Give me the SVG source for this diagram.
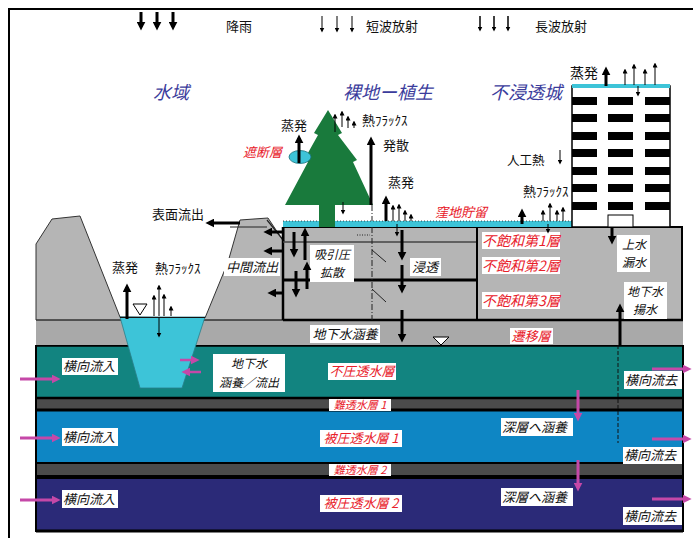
<svg xmlns="http://www.w3.org/2000/svg" width="693" height="538" viewBox="0 0 693 538">
<defs>
<style>
text{font-family:"Noto Sans CJK JP","Noto Sans",sans-serif;font-size:13px;fill:#111}
.it{font-style:italic}
.red{fill:#e8202a}
.reg{font-size:18px;fill:#3b3c9c;font-style:italic}
.mid{text-anchor:middle}
.two{font-size:12px}
.bx{fill:#fff}
.ak{stroke:#000;stroke-width:3;fill:none;marker-end:url(#ak)}
.at{stroke:#000;stroke-width:1;fill:none;marker-end:url(#at)}
.ap{stroke:#c548a8;stroke-width:3;fill:none;marker-end:url(#ap)}
.win{fill:#000}
</style>
<marker id="ak" viewBox="0 0 10 10" refX="6" refY="5" markerWidth="9" markerHeight="9" markerUnits="userSpaceOnUse" orient="auto"><path d="M0,0 L10,5 L0,10 z" fill="#000"/></marker>
<marker id="at" viewBox="0 0 10 10" refX="7" refY="5" markerWidth="5" markerHeight="5" markerUnits="userSpaceOnUse" orient="auto"><path d="M0,0 L10,5 L0,10 z" fill="#000"/></marker>
<marker id="ap" viewBox="0 0 10 10" refX="6" refY="5" markerWidth="9" markerHeight="9" markerUnits="userSpaceOnUse" orient="auto"><path d="M0,0 L10,5 L0,10 z" fill="#c548a8"/></marker>
</defs>

<rect width="693" height="538" fill="#fff"/>
<!-- outer frame -->
<path d="M9,538 V9 H693" stroke="#000" stroke-width="2" fill="none"/>

<!-- aquifer strata -->
<g id="strata">
  <rect x="36" y="345" width="647" height="52" fill="#128480"/>
  <rect x="36" y="397" width="647" height="14" fill="#4b4b4b"/>
  <rect x="36" y="411" width="647" height="52" fill="#0e86c4"/>
  <rect x="36" y="463" width="647" height="14" fill="#4b4b4b"/>
  <rect x="36" y="477" width="647" height="54" fill="#2b2a78"/>
  <g stroke="#000" fill="none">
    <path d="M36,345.5 H683" stroke-width="2.5"/>
    <path d="M36,398 H683" stroke-width="2.5"/>
    <path d="M36,410 H683" stroke-width="3"/>
    <path d="M36,463 H683" stroke-width="2"/>
    <path d="M36,477 H683" stroke-width="4"/>
    <path d="M36,531 H683" stroke-width="3"/>
    <path d="M36,345 V532 M683,345 V532" stroke-width="2"/>
  </g>
</g>

<!-- ground surface and soil -->
<g id="ground">
  <rect x="36" y="320" width="647" height="25" fill="#a9a9a9"/>
  <polygon points="36,320 36,244 52,219 80,216 120,317 205,318 228,262 240,220 268,218 284,242 284,227 682,227 682,320" fill="#b5b5b5" stroke="#333" stroke-width="1"/>
  <path d="M36,320 H283" stroke="#333" stroke-width="1.2"/>
  <path d="M230,227 H267" stroke="#222" stroke-width="1"/>
  <path d="M267,220 L284,241" stroke="#222" stroke-width="1.2"/>
  <!-- soil columns -->
  <g stroke="#000" fill="none">
    <path d="M283,227 V320" stroke-width="2.5"/>
    <path d="M283,242 H477" stroke="#444" stroke-width="1.5"/>
    <path d="M283,280 H477" stroke-width="3"/>
    <path d="M283,320 H683" stroke-width="2.5"/>
    <path d="M477,227 V320" stroke-width="2"/>
    <path d="M283,227 H682 V320" stroke-width="2"/>
  </g>
  <path d="M372,205 V320" stroke="#222" stroke-width="1" stroke-dasharray="6,2,1,2"/>
  <path d="M357,235 H370" stroke="#222" stroke-width="1" stroke-dasharray="1,1.5"/>
  <path d="M372,250 L386,262 M372,289 L386,302" stroke="#222" stroke-width="1"/>
  <path d="M618,345 V443" stroke="#111" stroke-width="1" stroke-dasharray="4,2"/>
</g>

<!-- river -->
<g id="river">
  <polygon points="120,317 205,317 182,388 140,388" fill="#3dc4d8" stroke="#2a7f8a" stroke-width="0.8"/>
  <path d="M120,317.5 H205" stroke="#111" stroke-width="1"/>
  <polygon points="133,304 147,304 140,315" fill="#fff" stroke="#000" stroke-width="1"/>
</g>

<!-- ponding water -->
<g id="ponding">
  <rect x="283" y="221" width="289" height="6" fill="#3dc4d8"/>
  <path d="M283,221 H572" stroke="#222" stroke-width="0.8" stroke-dasharray="1,2"/>
</g>

<!-- tree -->
<g id="tree">
  <polygon points="328,110 342,133 338,135 357,160 353,162 373,205 285,205 308,162 304,160 318,135 314,133" fill="#197a3c"/>
  <rect x="319" y="204" width="16" height="23" fill="#197a3c"/>
  <ellipse cx="300" cy="157" rx="11" ry="6.5" fill="#3dc4d8" stroke="#17707a" stroke-width="0.8"/>
</g>

<!-- building -->
<g id="building">
  <rect x="572" y="86" width="98" height="141" fill="#fff" stroke="#000" stroke-width="1.5"/>
  <rect x="572" y="84" width="98" height="4" fill="#3dc4d8"/>
  <g class="win">
    <rect x="572" y="97" width="25" height="8"/><rect x="608" y="97" width="25" height="8"/><rect x="645" y="97" width="25" height="8"/>
    <rect x="572" y="114" width="25" height="8"/><rect x="608" y="114" width="25" height="8"/><rect x="645" y="114" width="25" height="8"/>
    <rect x="572" y="132" width="25" height="8"/><rect x="608" y="132" width="25" height="8"/><rect x="645" y="132" width="25" height="8"/>
    <rect x="572" y="149" width="25" height="8"/><rect x="608" y="149" width="25" height="8"/><rect x="645" y="149" width="25" height="8"/>
    <rect x="572" y="167" width="25" height="8"/><rect x="608" y="167" width="25" height="8"/><rect x="645" y="167" width="25" height="8"/>
    <rect x="572" y="184" width="25" height="8"/><rect x="608" y="184" width="25" height="8"/><rect x="645" y="184" width="25" height="8"/>
    <rect x="572" y="202" width="25" height="8"/><rect x="608" y="202" width="25" height="8"/><rect x="645" y="202" width="25" height="8"/>
  </g>
  <rect x="608" y="215" width="25" height="12" fill="#fff" stroke="#000" stroke-width="1"/>
</g>

<!-- legend -->
<g id="legend">
  <text x="226" y="31">降雨</text>
  <text x="366" y="31">短波放射</text>
  <text x="535" y="31">長波放射</text>
</g>

<!-- region titles -->
<g id="regions">
  <text class="reg" x="153" y="99">水域</text>
  <text class="reg" x="343" y="99">裸地ー植生</text>
  <text class="reg" x="490" y="99">不浸透城</text>
</g>

<!-- plain labels -->
<g id="labels">
  <text x="570" y="78" style="font-size:14px">蒸発</text>
  <text x="281" y="130">蒸発</text>
  <text x="362" y="125">熱ﾌﾗｯｸｽ</text>
  <text class="it red" x="243" y="157">遮断層</text>
  <text x="383" y="150">発散</text>
  <text x="388" y="187">蒸発</text>
  <text x="507" y="165" style="font-size:12.5px">人工熱</text>
  <text x="523" y="196">熱ﾌﾗｯｸｽ</text>
  <text class="it red" x="435" y="217">窪地貯留</text>
  <text x="152" y="219">表面流出</text>
  <text x="112" y="272">蒸発</text>
  <text x="155" y="273">熱ﾌﾗｯｸｽ</text>
</g>

<!-- boxed labels -->
<g id="n-chukan"><rect class="bx" x="224" y="258" width="56" height="18"/><text class="it" x="226" y="272">中間流出</text></g>
<g id="n-kyuin"><rect class="bx" x="310" y="245" width="44" height="37"/><text class="it mid two" x="332" y="259">吸引圧</text><text class="it mid two" x="332" y="277">拡散</text></g>
<g id="n-shinto"><rect class="bx" x="410" y="258" width="31" height="18"/><text class="it mid" x="425" y="272">浸透</text></g>
<g id="n-kanyo"><rect class="bx" x="310" y="325" width="70" height="18"/><text class="it mid" x="345" y="339">地下水涵養</text></g>
<g id="n-seni"><rect class="bx" x="510" y="328" width="43" height="16"/><text class="it red mid" x="531" y="341">遷移層</text></g>
<g id="n-fuhowa1"><rect class="bx" x="482" y="232" width="78" height="17"/><text class="it red mid" x="521" y="246" style="font-size:14px">不飽和第1層</text></g>
<g id="n-fuhowa2"><rect class="bx" x="482" y="257" width="78" height="17"/><text class="it red mid" x="521" y="271" style="font-size:14px">不飽和第2層</text></g>
<g id="n-fuhowa3"><rect class="bx" x="482" y="292" width="78" height="17"/><text class="it red mid" x="521" y="306" style="font-size:14px">不飽和第3層</text></g>
<g id="n-josui"><rect class="bx" x="617" y="235" width="33" height="37"/><text class="it mid two" x="634" y="249">上水</text><text class="it mid two" x="634" y="267">漏水</text></g>
<g id="n-yousui"><rect class="bx" x="624" y="282" width="43" height="37"/><text class="it mid two" x="645" y="296">地下水</text><text class="it mid two" x="645" y="314">揚水</text></g>

<g id="n-inflow1"><rect class="bx" x="62" y="358" width="56" height="17"/><text class="it" x="63" y="371">横向流入</text></g>
<g id="n-exchange"><rect class="bx" x="213" y="354" width="72" height="38"/><text class="it mid two" x="249" y="368">地下水</text><text class="it mid two" x="249" y="387">涵養／流出</text></g>
<g id="n-unconf"><rect class="bx" x="328" y="363" width="68" height="17"/><text class="it red mid" x="362" y="376">不圧透水層</text></g>
<g id="n-aquitard1"><rect class="bx" x="329" y="399" width="62" height="12"/><text class="it red mid" x="360" y="409" style="font-size:11px">難透水層 1</text></g>
<g id="n-inflow2"><rect class="bx" x="62" y="428" width="56" height="18"/><text class="it" x="63" y="442">横向流入</text></g>
<g id="n-conf1"><rect class="bx" x="320" y="430" width="82" height="17"/><text class="it red mid" x="361" y="443">被圧透水層 1</text></g>
<g id="n-aquitard2"><rect class="bx" x="329" y="464" width="62" height="12"/><text class="it red mid" x="360" y="474" style="font-size:11px">難透水層 2</text></g>
<g id="n-inflow3"><rect class="bx" x="62" y="490" width="56" height="18"/><text class="it" x="63" y="504">横向流入</text></g>
<g id="n-conf2"><rect class="bx" x="320" y="495" width="82" height="17"/><text class="it red mid" x="361" y="508">被圧透水層 2</text></g>
<g id="n-out1"><rect class="bx" x="624" y="371" width="58" height="18"/><text class="it" x="625" y="385">横向流去</text></g>
<g id="n-deep1"><rect class="bx" x="501" y="418" width="72" height="18"/><text class="it" x="502" y="432">深層へ涵養</text></g>
<g id="n-out2"><rect class="bx" x="623" y="447" width="59" height="17"/><text class="it" x="624" y="460">横向流去</text></g>
<g id="n-deep2"><rect class="bx" x="501" y="488" width="72" height="18"/><text class="it" x="502" y="502">深層へ涵養</text></g>
<g id="n-out3"><rect class="bx" x="623" y="507" width="59" height="18"/><text class="it" x="624" y="521">横向流去</text></g>

<!-- fluxes -->
<g id="connectors">
  <!-- legend -->
  <path class="ak" d="M141,12 V27"/><path class="ak" d="M157,12 V27"/><path class="ak" d="M173,12 V27"/>
  <path class="at" d="M322,16 V31"/><path class="at" d="M337,16 V31"/><path class="at" d="M352,16 V31"/>
  <path class="at" style="stroke-width:1.5" d="M480,16 V30"/><path class="at" style="stroke-width:1.5" d="M494,16 V30"/><path class="at" style="stroke-width:1.5" d="M508,16 V30"/>
  <!-- roof -->
  <path class="ak" d="M606,86 V70"/>
  <path class="at" d="M625,85 V70"/><path class="at" d="M634,85 V65"/><path class="at" d="M645,85 V70"/><path class="at" d="M655,85 V64"/>
  <path class="at" d="M638,86 V95"/>
  <!-- canopy -->
  <path class="ak" d="M299,163 V138"/>
  <path class="at" d="M335,132 V115"/><path class="at" d="M342,127 V112"/><path class="at" d="M348,128 V117"/><path class="at" d="M354,128 V122"/>
  <path class="ak" d="M371,205 V140"/>
  <path class="at" d="M343,202 V213"/>
  <!-- bare soil surface -->
  <path class="ak" d="M386,221 V199"/>
  <path class="at" d="M393,221 V206"/><path class="at" d="M399,221 V205"/><path class="at" d="M405,221 V211"/><path class="at" d="M411,221 V215"/>
  <path class="at" d="M397,224 V235"/>
  <!-- urban surface -->
  <path class="at" d="M560,150 V163"/>
  <path class="ak" d="M522,224 V212"/>
  <path class="at" d="M543,221 V211"/><path class="at" d="M550,221 V204"/><path class="at" d="M557,221 V211"/><path class="at" d="M563,221 V208"/>
  <path class="at" d="M548,224 V232"/>
  <path class="ak" d="M612,228 V241"/>
  <path class="ak" d="M620,345 V307"/>
  <!-- river -->
  <path class="ak" d="M127,319 V287"/>
  <path class="at" d="M154,316 V296"/><path class="at" d="M159,316 V286"/><path class="at" d="M164,316 V295"/><path class="at" d="M171,316 V307"/>
  <path class="at" d="M159,318 V336"/>
  <!-- runoff -->
  <path class="ak" d="M240,223 H209"/>
  <path class="ak" d="M284,232 H267"/>
  <path class="ak" d="M284,251 H267"/>
  <path class="ak" d="M283,293 H271"/>
  <!-- soil water -->
  <path class="ak" d="M294,232 V254"/><path class="ak" d="M305,260 V231"/>
  <path class="ak" d="M296,271 V294"/><path class="ak" d="M307,289 V265"/>
  <path class="ak" d="M402,230 V257"/><path class="ak" d="M402,265 V290"/><path class="ak" d="M402,310 V339"/>
  <polygon points="433,337 449,337 441,345" fill="#fff" stroke="#000" stroke-width="1"/>
  <!-- lateral groundwater -->
  <path class="ap" d="M20,379 H57"/><path class="ap" d="M20,438 H57"/><path class="ap" d="M20,500 H57"/>
  <path class="ap" d="M652,369 H688"/><path class="ap" d="M652,439 H688"/><path class="ap" d="M652,499 H688"/>
  <path class="ap" d="M578,390 V418"/><path class="ap" d="M578,460 V488"/>
  <path class="ap" style="stroke-width:2.5" d="M180,360 H196"/><path class="ap" style="stroke-width:2.5" d="M201,372 H185"/>
</g>
</svg>
